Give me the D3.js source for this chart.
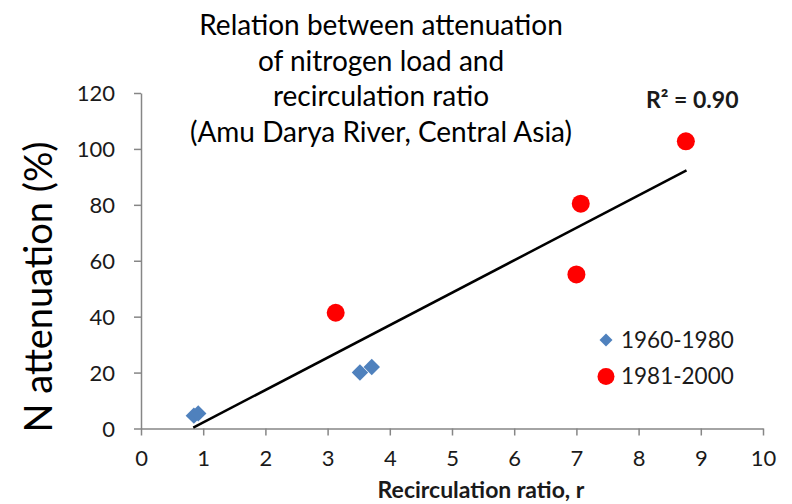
<!DOCTYPE html>
<html>
<head>
<meta charset="utf-8">
<script src="https://cdn.jsdelivr.net/npm/d3@7"></script>
<style>
  body { margin: 0; background: #fff; }
  text { font-family: Lato, "Open Sans", sans-serif; }
</style>
</head>
<body>
<div id="chart"></div>
<script>
// data
var series = ['1960-1980', '1981-2000'];
var earlyX = [0.85, 0.92, 3.52, 3.71];
var earlyY = [4.6, 5.4, 20, 22];
var lateX = [3.13, 7.0, 7.07, 8.76];
var lateY = [41.4, 55.1, 80.4, 102.7];
var trendX = [0.84, 8.77];
var trendY = [0.3, 92.3];
var xTicks = [0, 1, 2, 3, 4, 5, 6, 7, 8, 9, 10];
var yTicks = [0, 20, 40, 60, 80, 100, 120];
var titleLines = ['Relation between attenuation', 'of nitrogen load and',
  'recirculation ratio', '(Amu Darya River, Central Asia)'];

var width = 792, height = 504;
var margin = {top: 93, left: 141, right: 29, bottom: 75.5};

var svg = d3.select('#chart').append('svg')
  .attr('width', width)
  .attr('height', height);

var x = d3.scaleLinear().domain([0, 10]).range([margin.left, width - margin.right]);
var y = d3.scaleLinear().domain([0, 120]).range([height - margin.bottom, margin.top]);

var axisColor = '#868686';

// axes
var xAxis = svg.append('g')
  .attr('transform', 'translate(0,' + y(0) + ')')
  .call(d3.axisBottom(x).tickValues(xTicks).tickSizeInner(7).tickSizeOuter(0).tickPadding(10));
var yAxis = svg.append('g')
  .attr('transform', 'translate(' + x(0) + ',0)')
  .call(d3.axisLeft(y).tickValues(yTicks).tickSizeInner(7).tickSizeOuter(0).tickPadding(19));

[xAxis, yAxis].forEach(function(a) {
  a.select('.domain').attr('stroke', axisColor).attr('stroke-width', 1.5);
  a.selectAll('.tick line').attr('stroke', axisColor).attr('stroke-width', 1.5);
  a.selectAll('.tick text')
    .attr('fill', '#1a1a1a')
    .style('font-size', '22px');
});
xAxis.selectAll('.tick text').attr('dy', '0.92em');
yAxis.selectAll('.tick text').attr('dy', '0.36em');

// trend line
var trend = trendX.map(function(d, i) { return {x: d, y: trendY[i]}; });
svg.append('path')
  .datum(trend)
  .attr('d', d3.line().x(function(d) { return x(d.x); }).y(function(d) { return y(d.y); }))
  .attr('stroke', '#000')
  .attr('stroke-width', 2.5)
  .attr('fill', 'none');

// points
var diamond = d3.symbol().type(d3.symbolSquare).size(135);
var early = earlyX.map(function(d, i) { return {x: d, y: earlyY[i]}; });
var late = lateX.map(function(d, i) { return {x: d, y: lateY[i]}; });

svg.selectAll('.early')
  .data(early)
  .enter()
  .append('path')
  .attr('class', 'early')
  .attr('d', diamond)
  .attr('transform', function(d) {
    return 'translate(' + x(d.x) + ',' + y(d.y) + ') rotate(45)';
  })
  .attr('fill', '#4f81bd');

svg.selectAll('.late')
  .data(late)
  .enter()
  .append('circle')
  .attr('class', 'late')
  .attr('cx', function(d) { return x(d.x); })
  .attr('cy', function(d) { return y(d.y); })
  .attr('r', 9)
  .attr('fill', '#ff0000');

// title
svg.append('g').selectAll('text')
  .data(titleLines)
  .enter()
  .append('text')
  .attr('x', 381)
  .attr('y', function(d, i) { return 35 + i * 35.7; })
  .attr('text-anchor', 'middle')
  .style('font-size', '28px')
  .attr('fill', '#000')
  .text(function(d) { return d; });

// R squared
svg.append('text')
  .attr('x', 646)
  .attr('y', 108)
  .style('font-size', '23px')
  .style('font-weight', 'bold')
  .attr('fill', '#1a1a1a')
  .text('R² = 0.90');

// axis titles
svg.append('text')
  .attr('x', 481)
  .attr('y', 498)
  .attr('text-anchor', 'middle')
  .style('font-size', '23px')
  .style('font-weight', 'bold')
  .attr('fill', '#1a1a1a')
  .text('Recirculation ratio, r');

svg.append('text')
  .attr('transform', 'translate(52,' + 287 + ') rotate(-90)')
  .attr('text-anchor', 'middle')
  .style('font-size', '38px')
  .attr('fill', '#000')
  .text('N attenuation (%)');

// legend
var legend = svg.append('g');
legend.append('path')
  .attr('d', d3.symbol().type(d3.symbolSquare).size(85))
  .attr('transform', 'translate(606,340) rotate(45)')
  .attr('fill', '#4f81bd');
legend.append('circle')
  .attr('cx', 606)
  .attr('cy', 376.5)
  .attr('r', 8.5)
  .attr('fill', '#ff0000');
legend.selectAll('text')
  .data(series)
  .enter()
  .append('text')
  .attr('x', 621)
  .attr('y', function(d, i) { return 347.5 + i * 36.5; })
  .style('font-size', '22.5px')
  .attr('fill', '#1a1a1a')
  .text(function(d) { return d; });
</script>
</body>
</html>
